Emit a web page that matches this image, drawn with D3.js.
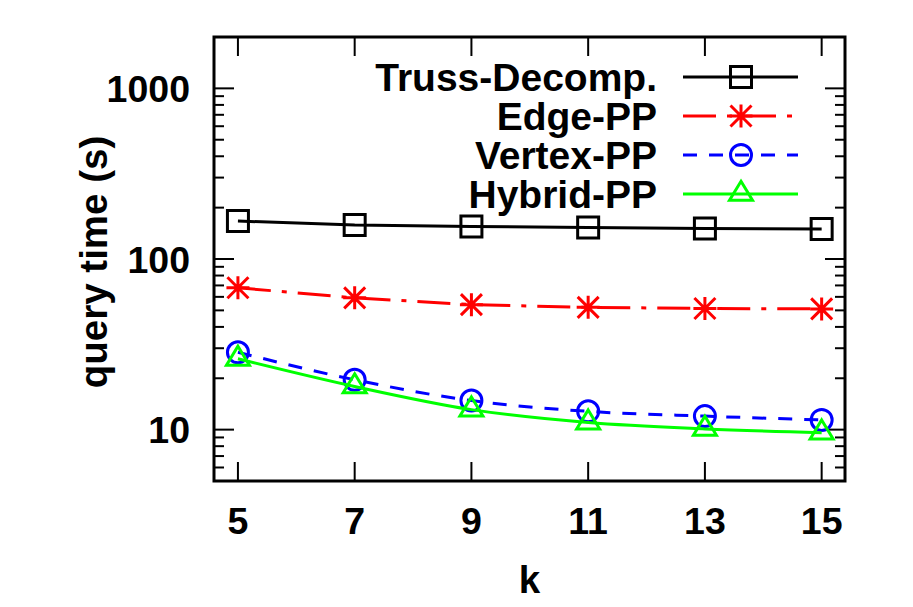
<!DOCTYPE html>
<html>
<head>
<meta charset="utf-8">
<script src="https://cdn.jsdelivr.net/npm/d3@7"></script>
<style>
  body { margin: 0; background: #fff; }
  text { font-family: "Liberation Sans", Arial, Helvetica, sans-serif; font-weight: bold; }
</style>
</head>
<body>
<div id="chart"></div>
<script>
// data
var kValues = [5, 7, 9, 11, 13, 15];
var trussDecomp = [167, 158, 155, 153, 151, 150];
var edgePP = [67.8, 59.2, 54, 52.1, 51.3, 51];
var vertexPP = [28.4, 19.6, 14.8, 12.8, 12.0, 11.4];
var hybridPP = [26, 17.9, 13.1, 11.0, 10.1, 9.6];
var seriesNames = ["Truss-Decomp.", "Edge-PP", "Vertex-PP", "Hybrid-PP"];
var xTicks = [5, 7, 9, 11, 13, 15];
var yTicks = [10, 100, 1000];

var W = 913, H = 607;
var margin = {top: 37, right: 68, bottom: 126, left: 214},
    width = W - margin.left - margin.right,
    height = H - margin.top - margin.bottom;

var svg = d3.select("#chart").append("svg")
  .attr("width", W)
  .attr("height", H);

var g = svg.append("g")
  .attr("transform", "translate(" + margin.left + "," + margin.top + ")");

var x = d3.scaleLinear().domain([4.59, 15.4]).range([0, width]);
var y = d3.scaleLog().domain([5, 2000]).range([height, 0]);

// minor log ticks
var minor = [];
[1, 10, 100, 1000].forEach(function(d) {
  for (var i = 2; i <= 9; i++) {
    var v = d * i;
    if (v > 5 && v < 2000) minor.push(v);
  }
});

var tickStroke = 2;
// y ticks left and right
[0, width].forEach(function(xx) {
  var dir = xx === 0 ? 1 : -1;
  g.selectAll(null).data(yTicks).enter().append("line")
    .attr("x1", xx).attr("x2", xx + dir * 20)
    .attr("y1", function(d) { return y(d); }).attr("y2", function(d) { return y(d); })
    .attr("stroke", "#000").attr("stroke-width", tickStroke);
  g.selectAll(null).data(minor).enter().append("line")
    .attr("x1", xx).attr("x2", xx + dir * 10)
    .attr("y1", function(d) { return y(d); }).attr("y2", function(d) { return y(d); })
    .attr("stroke", "#000").attr("stroke-width", tickStroke);
});
// x ticks bottom and top
[0, height].forEach(function(yy) {
  var dir = yy === 0 ? 1 : -1;
  g.selectAll(null).data(xTicks).enter().append("line")
    .attr("y1", yy).attr("y2", yy + dir * 19)
    .attr("x1", function(d) { return x(d); }).attr("x2", function(d) { return x(d); })
    .attr("stroke", "#000").attr("stroke-width", tickStroke);
});

// tick labels
g.selectAll(null).data(yTicks).enter().append("text")
  .attr("x", -24)
  .attr("y", function(d) { return y(d); })
  .attr("dy", "0.36em")
  .attr("text-anchor", "end")
  .style("font-size", "37.5px")
  .text(function(d) { return d; });

g.selectAll(null).data(xTicks).enter().append("text")
  .attr("x", function(d) { return x(d); })
  .attr("y", height + 53)
  .attr("text-anchor", "middle")
  .style("font-size", "37.5px")
  .text(function(d) { return d; });

// axis titles
g.append("text")
  .attr("x", width / 2)
  .attr("y", height + 112)
  .attr("text-anchor", "middle")
  .style("font-size", "38.5px")
  .text("k");

g.append("text")
  .attr("transform", "translate(" + (-107) + "," + (y(100) + 3) + ") rotate(-90)")
  .attr("text-anchor", "middle")
  .style("font-size", "38.5px")
  .text("query time (s)");

// series
var series = [
  {name: seriesNames[0], values: trussDecomp, color: "#000000", dash: null, marker: "square", curve: d3.curveLinear},
  {name: seriesNames[1], values: edgePP, color: "#ff0000", dash: "33,11,5,11", marker: "star", curve: d3.curveLinear},
  {name: seriesNames[2], values: vertexPP, color: "#0000ff", dash: "14,12", marker: "circle", curve: d3.curveMonotoneX},
  {name: seriesNames[3], values: hybridPP, color: "#00ff00", dash: null, marker: "triangle", curve: d3.curveMonotoneX}
];

function markerPath(type) {
  var s = 10.5;
  if (type === "square") return "M" + (-s) + "," + (-s) + "H" + s + "V" + s + "H" + (-s) + "Z";
  if (type === "star") {
    var r = 11.5, d = 10.5;
    return "M0," + (-r) + "V" + r + "M" + (-r) + ",0H" + r +
      "M" + (-d) + "," + (-d) + "L" + d + "," + d + "M" + (-d) + "," + d + "L" + d + "," + (-d);
  }
  if (type === "circle") return d3.arc()({innerRadius: 0, outerRadius: s, startAngle: 0, endAngle: 2 * Math.PI});
  if (type === "triangle") {
    var h = 19, hw = 11.5;
    return "M0," + (-h * 2 / 3) + "L" + hw + "," + (h / 3) + "L" + (-hw) + "," + (h / 3) + "Z";
  }
}

series.forEach(function(s) {
  var line = d3.line()
    .x(function(d, i) { return x(kValues[i]); })
    .y(function(d) { return y(d); })
    .curve(s.curve);

  g.append("path")
    .datum(s.values)
    .attr("fill", "none")
    .attr("stroke", s.color)
    .attr("stroke-width", 3)
    .attr("stroke-dasharray", s.dash)
    .attr("d", line);

  g.selectAll(null).data(s.values).enter().append("path")
    .attr("transform", function(d, i) { return "translate(" + x(kValues[i]) + "," + y(d) + ")"; })
    .attr("d", markerPath(s.marker))
    .attr("fill", "none")
    .attr("stroke", s.color)
    .attr("stroke-width", 3);
});

// legend
var legend = g.append("g");
series.forEach(function(s, i) {
  var ly = 40 + i * 39;
  legend.append("text")
    .attr("x", 443)
    .attr("y", ly)
    .attr("dy", "0.36em")
    .attr("text-anchor", "end")
    .style("font-size", "39px")
    .text(s.name);
  legend.append("line")
    .attr("x1", 469).attr("x2", 584)
    .attr("y1", ly).attr("y2", ly)
    .attr("stroke", s.color)
    .attr("stroke-width", 3)
    .attr("stroke-dasharray", s.dash);
  legend.append("path")
    .attr("transform", "translate(527," + ly + ")")
    .attr("d", markerPath(s.marker))
    .attr("fill", "none")
    .attr("stroke", s.color)
    .attr("stroke-width", 3);
});

// frame
g.append("rect")
  .attr("width", width)
  .attr("height", height)
  .attr("fill", "none")
  .attr("stroke", "#000")
  .attr("stroke-width", 3);
</script>
</body>
</html>
